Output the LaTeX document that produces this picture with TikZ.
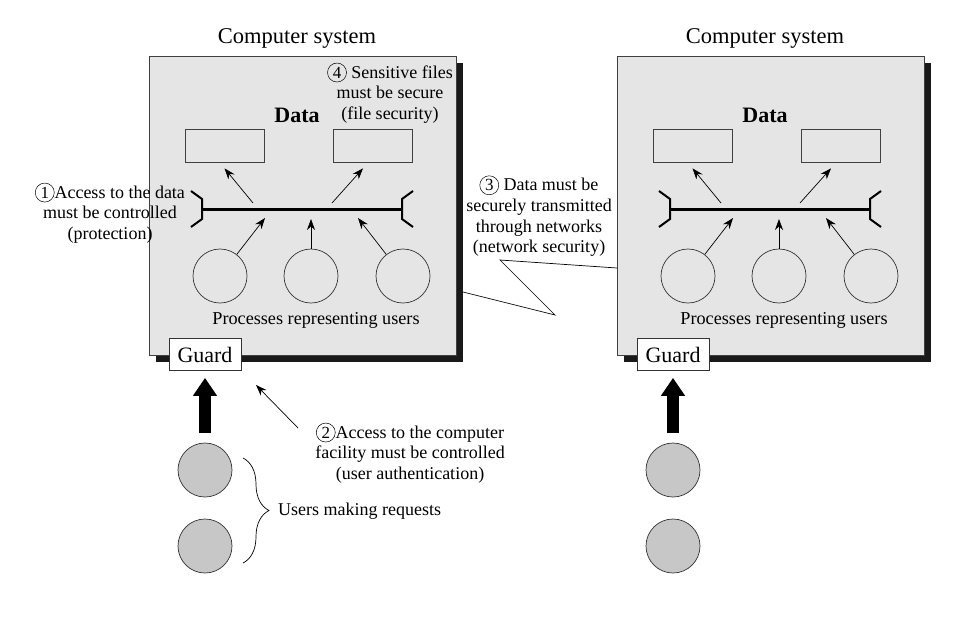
\documentclass[tikz,border=0pt]{standalone}
\usepackage{fontspec}
\setmainfont{Liberation Serif}
\usetikzlibrary{arrows.meta,shadows,decorations.pathreplacing}
\tikzstyle{sysbox}=[draw=black!75, fill=black!10, line width=0.7pt, minimum width=307pt, minimum height=299pt, drop shadow={fill=black!90, opacity=1, shadow xshift=7pt, shadow yshift=-7pt}]
\tikzstyle{datarec}=[draw=black!75, line width=0.7pt, minimum width=79pt, minimum height=33pt]
\tikzstyle{proc}=[circle, draw=black!80, line width=0.7pt, minimum size=54pt, inner sep=0pt]
\tikzstyle{user}=[proc, fill=black!22]
\tikzstyle{guardbox}=[draw=black!80, fill=white, line width=0.7pt, minimum width=72pt, minimum height=32pt, font=\fontsize{22}{24}\selectfont]
\tikzstyle{note}=[align=center, font=\fontsize{18}{20.6}\selectfont, inner sep=0pt]
\tikzstyle{arr}=[-{Stealth[length=11pt,width=8pt]}, line width=0.7pt]
\tikzstyle{bigarr}=[-{Triangle[length=18pt,width=23pt]}, line width=12pt]
\providecommand{\circnum}[1]{\tikz[baseline=(c.base)]\node[circle,draw,line width=0.5pt,inner sep=0pt,minimum size=19pt,font=\fontsize{17}{17}\selectfont](c){#1};}

\begin{document}
\begin{tikzpicture}[x=1pt, y=-1pt]
\useasboundingbox (0,0) rectangle (965,622);
\foreach \s/\n in {0/L,468/R}{
\begin{scope}[xshift=\s pt]
\node (title\n) at (297,38) [font=\fontsize{22.5}{24}\selectfont] {Computer system};
\node[sysbox] (box\n) at (302.5,205.5) {};
\node (data\n) at (297,115) [font=\fontsize{22}{24}\selectfont\bfseries] {Data};
\node[datarec] (dl\n) at (224.5,145.5) {};
\node[datarec] (dr\n) at (372.5,145.5) {};
\node[proc] (pa\n) at (220,276) {};
\node[proc] (pb\n) at (311,276) {};
\node[proc] (pc\n) at (403,276) {};
\node (proc\n) at (316,320) [font=\fontsize{18.2}{20}\selectfont] {Processes representing users};
\node[guardbox] (guard\n) at (205,354.5) {Guard};
\node[user] (ua\n) at (205,470) {};
\node[user] (ub\n) at (205,546) {};
\coordinate (bw\n) at (202,209);
\coordinate (be\n) at (402,209);
\coordinate (b1\n) at (253,203);
\coordinate (b2\n) at (332,203);
\coordinate (c1\n) at (265,218);
\coordinate (c2\n) at (311,219);
\coordinate (c3\n) at (358,218);
\draw[line width=3pt] (bw\n) -- (be\n);
\draw[line width=2pt] (bw\n) ++(-11,-18) -- ++(11,8) -- ++(0,20) -- ++(-11,8);
\draw[line width=2pt] (be\n) ++(11,-18) -- ++(-11,8) -- ++(0,20) -- ++(11,8);
\path
(b1\n) edge[arr] ([yshift=-6pt]dl\n.south)
(b2\n) edge[arr] ([xshift=-9.5pt,yshift=-6pt]dr\n.south)
(pa\n) edge[arr] (c1\n)
(pb\n) edge[arr] (c2\n)
(pc\n) edge[arr] (c3\n)
(ua\n) edge[bigarr, shorten <=10pt, shorten >=7pt] (guard\n)
;
\end{scope}
}
\node[note] (ann1) at (110,213) {\circnum{1}Access to the data\\must be controlled\\(protection)};
\node[note] (ann4) at (390,93) {\circnum{4} Sensitive files\\must be secure\\(file security)};
\node[note] (ann2) at (410,453) {\circnum{2}Access to the computer\\facility must be controlled\\(user authentication)};
\node[note] (ann3) at (539,216) {\circnum{3} Data must be\\securely transmitted\\through networks\\(network security)};
\node[note, anchor=west] (usr) at (278,511) {Users making requests};
\coordinate (from2) at (298,428);
\coordinate (to2) at (256,385);
\coordinate (brT) at (243,458);
\coordinate (brB) at (243,563);
\coordinate (netL) at (463,292);
\coordinate (n1) at (555,315);
\coordinate (n2) at (500,260);
\coordinate (netR) at (617,268);
\draw[arr] (from2) -- (to2);
\draw[decorate, decoration={brace, amplitude=26pt}, line width=0.7pt] (brT) -- (brB);
\draw[line width=0.7pt] (netL) -- (n1) -- (n2) -- (netR);
\end{tikzpicture}
\end{document}
